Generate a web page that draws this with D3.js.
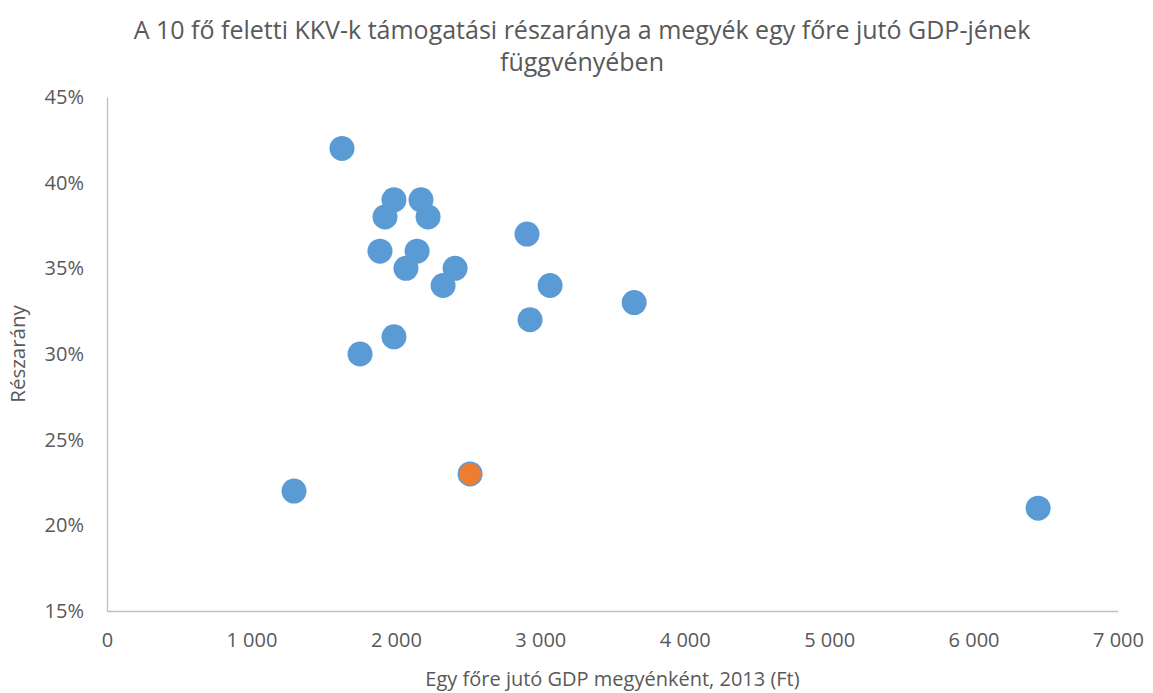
<!DOCTYPE html>
<html>
<head>
<meta charset="utf-8">
<script src="https://cdnjs.cloudflare.com/ajax/libs/d3/7.8.5/d3.min.js"></script>
<style>
  body { margin: 0; background: #fff; }
  #chart { width: 1153px; height: 693px; }
  text { font-family: "Open Sans", sans-serif; fill: #595959; }
</style>
</head>
<body>
<div id="chart"></div>
<script>
// GDP per capita (thousand Ft) vs share of support
const gdp   = [1627, 1295, 1987, 2174, 1925, 2223, 2908, 1890, 2147, 2070, 2410, 2327, 3068, 3650, 2929, 1987, 1752, 6447, 2514];
const share = [0.42, 0.22, 0.39, 0.39, 0.38, 0.38, 0.37, 0.36, 0.36, 0.35, 0.35, 0.34, 0.34, 0.33, 0.32, 0.31, 0.30, 0.21, 0.23];
// highlighted county
const hiGdp = [2514];
const hiShare = [0.23];

const xTicks = [0, 1000, 2000, 3000, 4000, 5000, 6000, 7000];
const yTicks = [0.15, 0.20, 0.25, 0.30, 0.35, 0.40, 0.45];

const titleLines = ["A 10 fő feletti KKV-k támogatási részaránya a megyék egy főre jutó GDP-jének", "függvényében"];
const xTitle = "Egy főre jutó GDP megyénként, 2013 (Ft)";
const yTitle = "Részarány";

const W = 1153, H = 693;
const m = {left: 107, right: 35, top: 97, bottom: 82};

const svg = d3.select("#chart").append("svg").attr("width", W).attr("height", H);

const x = d3.scaleLinear().domain([0, 7000]).range([m.left, W - m.right]);
const y = d3.scaleLinear().domain([0.15, 0.45]).range([H - m.bottom, m.top]);

const fmtY = d3.format(".0%");

// axes
const xAxis = svg.append("g")
  .attr("transform", "translate(0," + y(0.15) + ")")
  .call(d3.axisBottom(x).tickValues(xTicks).tickSize(0).tickPadding(22).tickFormat(d => d3.format(",")(d).replace(/,/g, " ")));
xAxis.select(".domain").attr("stroke", "#BFBFBF").attr("stroke-width", 1.3);
xAxis.selectAll("text").attr("font-size", 20).style("font-family", "Open Sans").attr("fill", "#595959");

const yAxis = svg.append("g")
  .attr("transform", "translate(" + x(0) + ",0)")
  .call(d3.axisLeft(y).tickValues(yTicks).tickSize(0).tickPadding(23).tickFormat(fmtY));
yAxis.select(".domain").attr("stroke", "#BFBFBF").attr("stroke-width", 1.3);
yAxis.selectAll("text").attr("font-size", 20).style("font-family", "Open Sans").attr("fill", "#595959");

// points
svg.append("g").selectAll("circle")
  .data(gdp.map((g, i) => ({g: g, s: share[i]})))
  .join("circle")
  .attr("cx", d => x(d.g))
  .attr("cy", d => y(d.s))
  .attr("r", 12.5)
  .attr("fill", "#5B9BD5");

svg.append("g").selectAll("circle")
  .data(hiGdp.map((g, i) => ({g: g, s: hiShare[i]})))
  .join("circle")
  .attr("cx", d => x(d.g))
  .attr("cy", d => y(d.s))
  .attr("r", 11)
  .attr("fill", "#ED7D31");

// title
svg.append("text")
  .attr("text-anchor", "middle")
  .attr("font-size", 25)
  .selectAll("tspan")
  .data(titleLines)
  .join("tspan")
  .attr("x", 582)
  .attr("y", (d, i) => 39 + i * 32)
  .text(d => d);

// axis titles
svg.append("text")
  .attr("text-anchor", "middle")
  .attr("font-size", 20)
  .attr("x", (x(0) + x(7000)) / 2)
  .attr("y", 686)
  .text(xTitle);

svg.append("text")
  .attr("text-anchor", "middle")
  .attr("font-size", 20.5)
  .attr("transform", "translate(25," + (y(0.30)) + ") rotate(-90)")
  .text(yTitle);
</script>
</body>
</html>
